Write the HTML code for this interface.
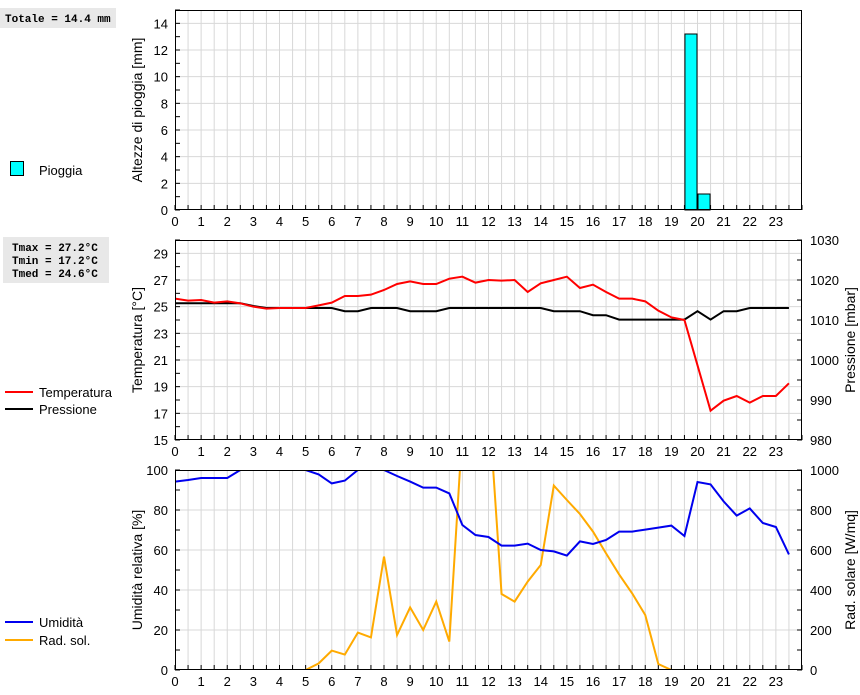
<!DOCTYPE html>
<html><head><meta charset="utf-8"><style>
body{margin:0;background:#fff;width:860px;height:690px;overflow:hidden;font-family:"Liberation Sans",sans-serif}
svg text{font-family:"Liberation Sans",sans-serif}
.mono{font-family:"Liberation Mono",monospace;font-weight:bold;font-size:11px}
</style></head><body>
<svg id="chart" width="860" height="690" viewBox="0 0 860 690" xmlns="http://www.w3.org/2000/svg">
  <g><rect x="0" y="8" width="116" height="20" fill="#e8e8e8"/><text class="mono" x="5" y="22">Totale = 14.4 mm</text></g>
  <g><rect x="10.5" y="161.5" width="13" height="14" fill="#00ffff" stroke="#000"/><text x="39" y="175" font-size="13">Pioggia</text></g>
  <g><rect x="3" y="237" width="106" height="46" fill="#e8e8e8"/>
    <text class="mono" x="12" y="251">Tmax = 27.2°C</text><text class="mono" x="12" y="264">Tmin = 17.2°C</text><text class="mono" x="12" y="277">Tmed = 24.6°C</text></g>
  <g><line x1="5" y1="392" x2="33" y2="392" stroke="#f00" stroke-width="2"/><text x="39" y="397" font-size="13">Temperatura</text></g>
  <g><line x1="5" y1="409" x2="33" y2="409" stroke="#000" stroke-width="2"/><text x="39" y="414" font-size="13">Pressione</text></g>
  <g><line x1="5" y1="622" x2="33" y2="622" stroke="#0000ee" stroke-width="2"/><text x="39" y="627" font-size="13">Umidità</text></g>
  <g><line x1="5" y1="640" x2="33" y2="640" stroke="#ffaa00" stroke-width="2"/><text x="39" y="645" font-size="13">Rad. sol.</text></g>
</svg>
<script>
const hours = [];
for (let i = 0; i < 48; i++) hours.push(i / 2);
const rainHours = [19.5, 20];
const rainValues = [13.2, 1.2];
const tempValues = [25.6,25.45,25.5,25.3,25.4,25.25,25.0,24.85,24.9,24.9,24.9,25.1,25.3,25.8,25.8,25.9,26.25,26.7,26.9,26.7,26.7,27.1,27.25,26.8,27.0,26.95,27.0,26.1,26.75,27.0,27.25,26.4,26.65,26.1,25.6,25.6,25.4,24.7,24.2,24.0,20.6,17.2,17.95,18.3,17.8,18.3,18.3,19.25];
const pressureValues = [1014.2,1014.2,1014.2,1014.2,1014.2,1014.2,1013.5,1013,1013,1013,1013,1013,1013,1012.2,1012.2,1013,1013,1013,1012.2,1012.2,1012.2,1013,1013,1013,1013,1013,1013,1013,1013,1012.2,1012.2,1012.2,1011.2,1011.2,1010.1,1010.1,1010.1,1010.1,1010.1,1010.1,1012.2,1010.1,1012.2,1012.2,1013,1013,1013,1013];
const humidityValues = [94.2,95,96,96,96,100,100,100,100,100,100,97.8,93.3,94.7,100,100,100,97,94.2,91.2,91.2,88.3,72.5,67.5,66.5,62.2,62.2,63.2,60,59.3,57.2,64.3,63,65,69.2,69.2,70.2,71.2,72.2,67,94,92.8,84.3,77.2,80.8,73.5,71.5,57.8];
const radiationValues = [0,0,0,0,0,0,0,0,0,0,0,33,97,77,187,163,567,175,313,200,342,142,1200,1400,1350,380,342,442,525,922,850,780,692,583,478,383,275,30,0,0,0,0,0,0,0,0,0,0];
const xTicks = [0,1,2,3,4,5,6,7,8,9,10,11,12,13,14,15,16,17,18,19,20,21,22,23];
const rainTicks = [0,2,4,6,8,10,12,14];
const tempTicks = [15,17,19,21,23,25,27,29];
const pressTicks = [980,990,1000,1010,1020,1030];
const humTicks = [0,20,40,60,80,100];
const radTicks = [0,200,400,600,800,1000];

const svg = document.getElementById('chart');
const NS = 'http://www.w3.org/2000/svg';
const X0 = 175, X1 = 802;
function xs(h){ return X0 + h * (X1 - X0) / 24; }
function mk(tag, attrs, parent){ const e = document.createElementNS(NS, tag); for (const k in attrs) e.setAttribute(k, attrs[k]); (parent||svg).appendChild(e); return e; }

function panel(name, top, bot, lmin, lmax, lTicks, lMinor, rmin, rmax, rTicks, rMinor, lTitle, rTitle){
  const g = mk('g', {});
  
  
  const ly = v => bot - (v - lmin) / (lmax - lmin) * (bot - top);
  const ry = rmin === null ? null : (v => bot - (v - rmin) / (rmax - rmin) * (bot - top));
  for (let h = 0.5; h < 24; h += 0.5) mk('line', {x1:xs(h), x2:xs(h), y1:top, y2:bot, stroke:'#d8d8d8', 'stroke-width':1}, g);
  lTicks.forEach(v => { if (v > lmin && v < lmax) mk('line', {x1:X0, x2:X1, y1:ly(v), y2:ly(v), stroke:'#d8d8d8'}, g); });
  for (let v = lmin; v <= lmax; v += lMinor) mk('line', {x1:X0, x2:X0+5, y1:ly(v), y2:ly(v), stroke:'#000'}, g);
  lTicks.forEach(v => { const t = mk('text', {x:X0-7, y:ly(v)+5, 'text-anchor':'end', 'font-size':13}, g); t.textContent = v; });
  if (ry) {
    for (let v = rmin; v <= rmax; v += rMinor) mk('line', {x1:X1-5, x2:X1, y1:ry(v), y2:ry(v), stroke:'#000'}, g);
    rTicks.forEach(v => { const t = mk('text', {x:X1+8, y:ry(v)+5, 'font-size':13}, g); t.textContent = v; });
    const rt = mk('text', {x:0, y:0, 'text-anchor':'middle', 'font-size':14, transform:`translate(855,${(top+bot)/2}) rotate(-90)`}, g);
    
    
    rt.textContent = rTitle;
  }
  for (let h = 0; h <= 24; h += 0.5) mk('line', {x1:xs(h), x2:xs(h), y1:bot-5, y2:bot, stroke:'#000'}, g);
  xTicks.forEach(h => { const t = mk('text', {x:xs(h), y:bot+16, 'text-anchor':'middle', 'font-size':13}, g); t.textContent = h; });
  const lt = mk('text', {x:0, y:0, 'text-anchor':'middle', 'font-size':14, transform:`translate(142,${(top+bot)/2}) rotate(-90)`}, g);
  
  
  lt.textContent = lTitle;
  return {g, ly, ry, top, bot};
}
function frame(p){ mk('rect', {x:X0+0.5, y:p.top+0.5, width:X1-X0-1, height:p.bot-p.top-1, fill:'none', stroke:'#000'}, p.g); }
function line(p, vals, yf, color, nm){
  const cid = 'clip-' + nm;
  const cp = mk('clipPath', {id:cid}, p.g); mk('rect', {x:X0, y:p.top, width:X1-X0, height:p.bot-p.top}, cp);
  const pl = mk('polyline', {points: vals.map((v,i)=>xs(hours[i])+','+yf(v)).join(' '), fill:'none', stroke:color, 'stroke-width':2, 'clip-path':`url(#${cid})`}, p.g);
  
  
}

const p1 = panel('rain-panel', 10, 210, 0, 15, rainTicks, 1, null, null, null, null, 'Altezze di pioggia [mm]');
rainHours.forEach((h, i) => {
  const r = mk('rect', {x:xs(h)+0.5, y:p1.ly(rainValues[i]), width:xs(h+0.5)-xs(h)-1, height:p1.bot-p1.ly(rainValues[i]), fill:'#00ffff', stroke:'#000', 'stroke-width':1}, p1.g);
  
  
});
frame(p1);

const p2 = panel('temperature-panel', 240, 440, 15, 30, tempTicks, 1, 980, 1030, pressTicks, 5, 'Temperatura [°C]', 'Pressione [mbar]');
line(p2, pressureValues, p2.ry, '#000', 'pressure-line');
line(p2, tempValues, p2.ly, '#f00', 'temperature-line');
frame(p2);

const p3 = panel('humidity-panel', 470, 670, 0, 100, humTicks, 10, 0, 1000, radTicks, 100, 'Umidità relativa [%]', 'Rad. solare [W/mq]');
line(p3, radiationValues, p3.ry, '#ffaa00', 'radiation-line');
line(p3, humidityValues, p3.ly, '#0000ee', 'humidity-line');
frame(p3);
</script>
</body></html>
